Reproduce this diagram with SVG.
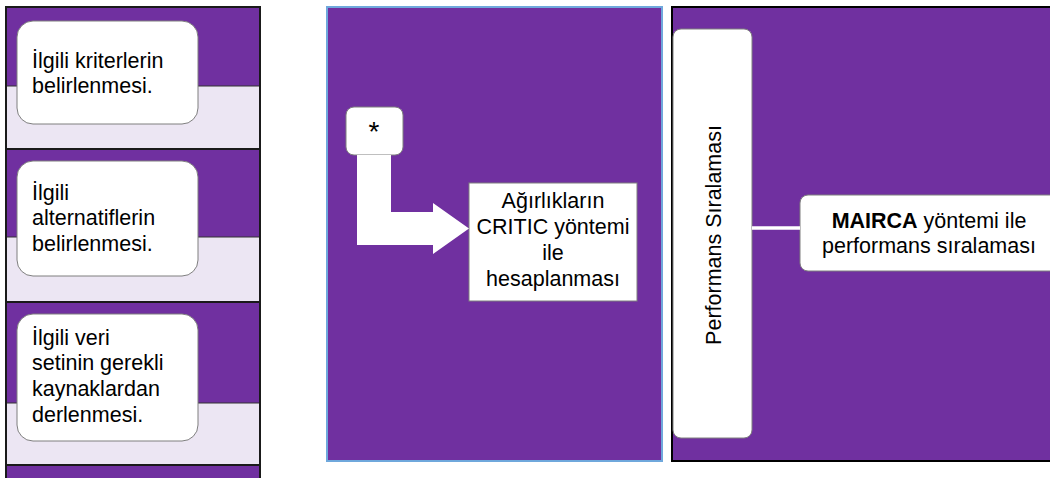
<svg xmlns="http://www.w3.org/2000/svg" width="1050" height="478" viewBox="0 0 1050 478">
  <style>
    .purple { fill: #7030A0; }
    .light { fill: #ECE6F3; }
    .sep { stroke: #1a1a1a; stroke-width: 2; }
    .thin { stroke: #333333; stroke-width: 1; }
    .box { fill: #FFFFFF; stroke: #7F7F7F; stroke-width: 1; }
    .t { font-family: "Liberation Sans", Arial, sans-serif; font-size: 21.5px; fill: #000000; }
    .c { text-anchor: middle; }
    .b { font-weight: bold; }
  </style>
  <rect x="0" y="0" width="1050" height="478" fill="#FFFFFF"/>

  <!-- Left panel -->
  <g id="left-panel">
    <rect class="purple" x="6" y="7" width="254" height="79"/>
    <rect class="light" x="6" y="86" width="254" height="63"/>
    <rect class="purple" x="6" y="149" width="254" height="88"/>
    <rect class="light" x="6" y="237" width="254" height="65"/>
    <rect class="purple" x="6" y="302" width="254" height="101"/>
    <rect class="light" x="6" y="403" width="254" height="62"/>
    <rect class="purple" x="6" y="465" width="254" height="20"/>
    <line class="thin" x1="6" y1="86" x2="260" y2="86"/>
    <line class="thin" x1="6" y1="237" x2="260" y2="237"/>
    <line class="thin" x1="6" y1="403" x2="260" y2="403"/>
    <line class="sep" x1="6" y1="149" x2="260" y2="149"/>
    <line class="sep" x1="6" y1="302" x2="260" y2="302"/>
    <line class="sep" x1="6" y1="465" x2="260" y2="465"/>
    <rect x="6" y="7" width="254" height="480" fill="none" stroke="#1a1a1a" stroke-width="2"/>
  </g>

  <g id="node-kriterler">
    <rect class="box" x="17" y="21" width="181" height="103" rx="16"/>
    <text class="t" x="32" y="68">İlgili kriterlerin</text>
    <text class="t" x="32" y="93">belirlenmesi.</text>
  </g>
  <g id="node-alternatifler">
    <rect class="box" x="17" y="161" width="181" height="115" rx="16"/>
    <text class="t" x="32" y="200">İlgili</text>
    <text class="t" x="32" y="225">alternatiflerin</text>
    <text class="t" x="32" y="251">belirlenmesi.</text>
  </g>
  <g id="node-veri">
    <rect class="box" x="17" y="314" width="181" height="127" rx="16"/>
    <text class="t" x="32" y="345">İlgili veri</text>
    <text class="t" x="32" y="370">setinin gerekli</text>
    <text class="t" x="32" y="396">kaynaklardan</text>
    <text class="t" x="32" y="422">derlenmesi.</text>
  </g>

  <!-- Middle panel -->
  <g id="middle-panel">
    <rect class="purple" x="327" y="7" width="335" height="454" stroke="#6FA8DC" stroke-width="2"/>
  </g>
  <g id="node-star">
    <rect class="box" x="346" y="107" width="57" height="48" rx="8"/>
    <text class="t c" x="374" y="141" style="font-size:28px">*</text>
  </g>
  <g id="node-critic">
    <rect class="box" x="469" y="183" width="168" height="118"/>
    <text class="t c" x="553" y="208">Ağırlıkların</text>
    <text class="t c" x="553" y="234">CRITIC yöntemi</text>
    <text class="t c" x="553" y="260">ile</text>
    <text class="t c" x="553" y="286">hesaplanması</text>
  </g>

  <!-- Right panel -->
  <g id="right-panel">
    <rect class="purple" x="672" y="7" width="390" height="454" stroke="#000000" stroke-width="2"/>
  </g>
  <g id="node-performans">
    <rect class="box" x="673" y="29" width="79" height="409" rx="8"/>
    <text class="t c" transform="translate(721,235) rotate(-90)" x="0" y="0">Performans Sıralaması</text>
  </g>
  <g id="node-mairca">
    <rect class="box" x="800" y="195" width="270" height="76" rx="8"/>
    <text class="t c" x="929" y="228"><tspan class="b">MAIRCA</tspan> yöntemi ile</text>
    <text class="t c" x="929" y="253">performans sıralaması</text>
  </g>

  <!-- Connectors -->
  <g id="connectors">
    <path d="M357,155 L391,155 L391,212 L433,212 L433,203 L469,228.5 L433,254 L433,245 L357,245 Z" fill="#FFFFFF"/>
    <line x1="752" y1="228" x2="800" y2="228" stroke="#FFFFFF" stroke-width="3.5"/>
  </g>
</svg>
